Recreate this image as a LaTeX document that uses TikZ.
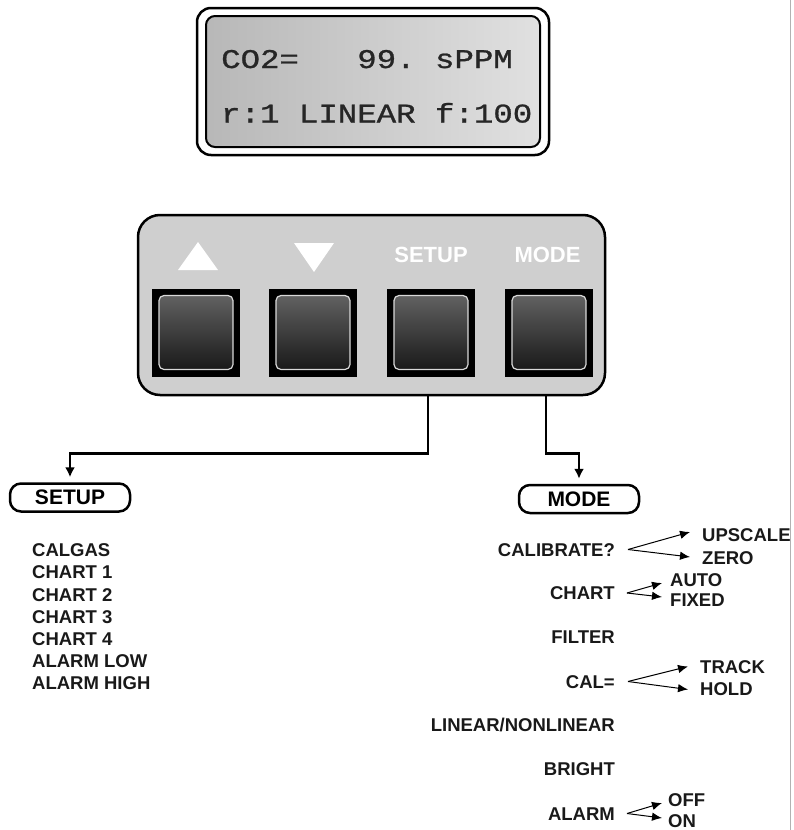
\documentclass[tikz,border=0pt]{standalone}
\usepackage{fontspec}
\usepackage{graphicx}
\setmainfont{Liberation Sans}
\newfontfamily\lcdfont[FakeBold=0.9]{Liberation Mono}
\usetikzlibrary{arrows.meta}

\begin{document}
\begin{tikzpicture}[x=1pt, y=-1pt,
    frame/.style={draw, line width=2.5pt, rounded corners=14pt, fill=white,
                  minimum width=352pt, minimum height=147pt},
    screen/.style={draw, line width=2pt, rounded corners=9pt,
                   left color=black!28, right color=black!12,
                   minimum width=334pt, minimum height=131pt},
    lcdline/.style={anchor=west, inner sep=0pt, text height=18pt, text depth=0pt,
                    font=\lcdfont\fontsize{27}{27}\selectfont, text=black!85},
    keypad/.style={draw, line width=2.5pt, rounded corners=22pt, fill=black!19,
                   minimum width=467pt, minimum height=180pt},
    keybox/.style={fill=black, minimum size=88pt, inner sep=0pt},
    keyface/.style={draw=black!15, line width=1.2pt, rounded corners=5pt,
                    top color=black!62, bottom color=black!90,
                    minimum size=74pt, inner sep=0pt},
    keylabel/.style={text=white, inner sep=0pt,
                     font=\bfseries\fontsize{22}{22}\selectfont},
    menubox/.style={draw, line width=2.5pt, rounded corners=11pt,
                    minimum width=120pt, minimum height=28pt, inner sep=0pt,
                    font=\bfseries\fontsize{21}{21}\selectfont},
    item/.style={inner sep=0pt, text height=13.2pt, text depth=0pt, text=black!90,
                 font=\bfseries\fontsize{18.5}{22}\selectfont},
    arr/.style={-{Latex[length=10pt,width=10pt]}, line width=2.5pt, shorten >=5pt},
    branch/.style={-{Latex[length=10pt,width=8.5pt]}, line width=1pt}
  ]
  \useasboundingbox (0,0) rectangle (793,830);

  % display
  \node[frame] (lcd) at (373,81.5) {};
  \node[screen] (lcdscreen) at (lcd.center) {};
  \node[lcdline] (row1) at (221,59) {\scalebox{1.2}[1]{CO2=\ \ \ 99.\ sPPM}};
  \node[lcdline] (row2) at (221,113.5) {\scalebox{1.2}[1]{r:1 LINEAR f:100}};

  % keypad
  \node[keypad] (panel) at (371.5,305) {};
  \foreach \nm/\x in {up/196, down/313, setup/431, mode/549} {
    \node[keybox] (btn\nm) at (\x,332.5) {};
    \node[keyface] at (btn\nm.center) {};
  }
  \fill[white] (178,270) -- (218,270) -- (198,242) -- cycle;
  \fill[white] (294,243) -- (334,243) -- (314,272) -- cycle;
  \node[keylabel] (lblsetup) at ([yshift=33pt]btnsetup.north) {SETUP};
  \node[keylabel] (lblmode) at ([yshift=33pt,xshift=-1.5pt]btnmode.north) {MODE};

  % menus
  \node[menubox] (setupbox) at (70,497.5) {SETUP};
  \node[menubox] (modebox) at (579,499) {MODE};

  \draw[arr] ([xshift=-3pt]btnsetup.south |- panel.south) -- ++(0,57) -| (setupbox.north);
  \draw[arr] ([xshift=-3pt]btnmode.south |- panel.south) -- ++(0,57) -| (modebox.north);

  % setup list
  \foreach \t [count=\i] in {CALGAS, CHART 1, CHART 2, CHART 3, CHART 4, ALARM LOW, ALARM HIGH}
    \node[item, anchor=west] (set\i) at (32,550+22.2*\i-22.2) {\t};

  % mode list
  \node[item, anchor=east] (calib) at (615,549.5) {CALIBRATE?};
  \node[item, anchor=west] (upscale) at (702,535) {UPSCALE};
  \node[item, anchor=west] (zero) at (702,558) {ZERO};
  \node[item, anchor=east] (chart) at (615,593) {CHART};
  \node[item, anchor=west] (auto) at (670,580) {AUTO};
  \node[item, anchor=west] (fixed) at (670,600) {FIXED};
  \node[item, anchor=east] (filter) at (615,637) {FILTER};
  \node[item, anchor=east] (cal) at (615,681.5) {CAL=};
  \node[item, anchor=west] (track) at (700,666.5) {TRACK};
  \node[item, anchor=west] (hold) at (700,688.5) {HOLD};
  \node[item, anchor=east] (linear) at (615,725) {LINEAR/NONLINEAR};
  \node[item, anchor=east] (bright) at (615,768.5) {BRIGHT};
  \node[item, anchor=east] (alarm) at (615,813.5) {ALARM};
  \node[item, anchor=west] (off) at (668,800) {OFF};
  \node[item, anchor=west] (on) at (668,821) {ON};

  \draw[branch] ([xshift=13pt]calib.east) -- ([xshift=-12pt,yshift=3pt]upscale.west);
  \draw[branch] ([xshift=13pt]calib.east) -- ([xshift=-12pt,yshift=1pt]zero.west);
  \draw[branch] ([xshift=12pt]chart.east) -- ([xshift=-8pt,yshift=-3pt]auto.west);
  \draw[branch] ([xshift=12pt]chart.east) -- ([xshift=-8pt,yshift=3pt]fixed.west);
  \draw[branch] ([xshift=13pt]cal.east) -- ([xshift=-12pt]track.west);
  \draw[branch] ([xshift=13pt]cal.east) -- ([xshift=-12pt,yshift=-1pt]hold.west);
  \draw[branch] ([xshift=12pt]alarm.east) -- ([xshift=-6pt,yshift=-3pt]off.west);
  \draw[branch] ([xshift=12pt]alarm.east) -- ([xshift=-6pt,yshift=3pt]on.west);

  % page edge
  \draw[black!30, line width=1pt] (790,0) -- (790,830);
\end{tikzpicture}
\end{document}
